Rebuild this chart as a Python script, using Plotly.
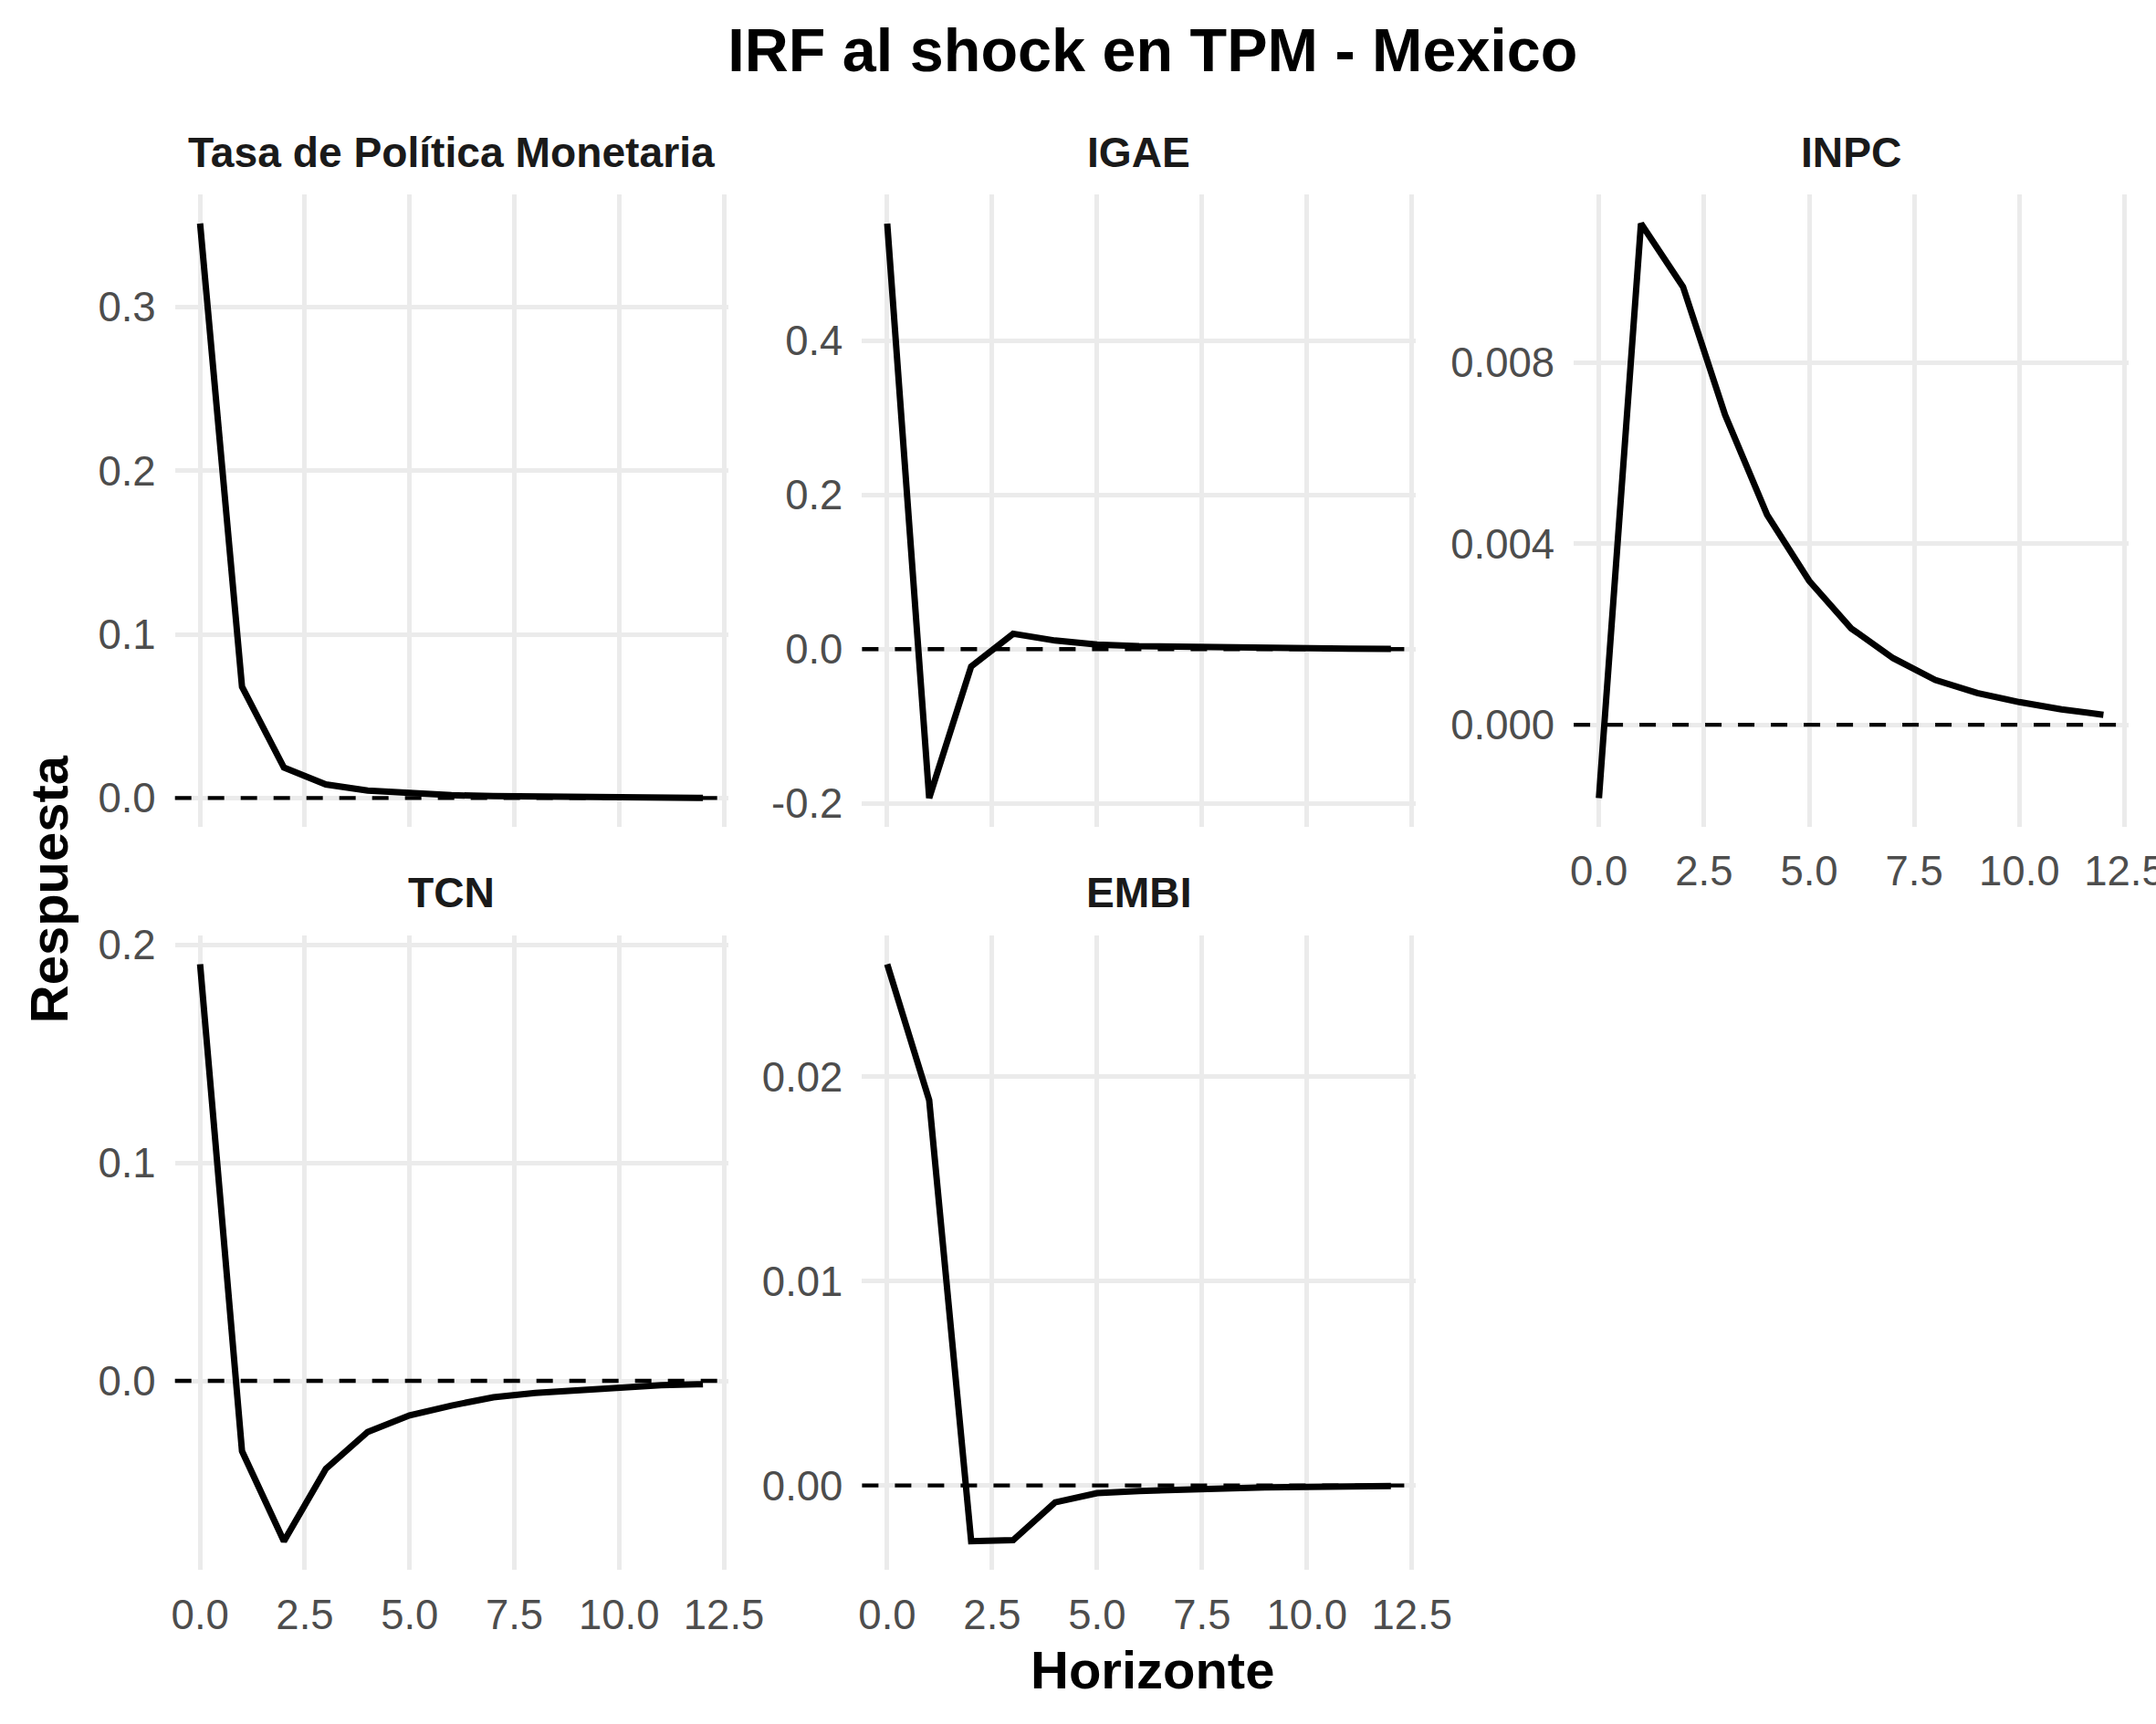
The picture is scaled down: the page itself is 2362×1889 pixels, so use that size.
import plotly.graph_objects as go

# ---------------- data ----------------
horizonte = list(range(13))
variables = ["Tasa de Política Monetaria", "IGAE", "INPC", "TCN", "EMBI"]

tpm = [0.351, 0.068, 0.0186, 0.0083, 0.0045, 0.0027, 0.0017, 0.0012, 0.0008, 0.0005, 0.0003, 0.0002, 0.0001]
igae = [0.552, -0.193, -0.0224, 0.020, 0.0112, 0.0059, 0.0040, 0.0030, 0.0020, 0.0015, 0.0010, 0.0007, 0.0005]
inpc = [-0.00162, 0.01108, 0.00968, 0.00685, 0.00464, 0.00318, 0.00213, 0.00147, 0.00099, 0.00070, 0.00050, 0.00034, 0.00022]
tcn = [0.191, -0.0322, -0.0735, -0.0403, -0.0234, -0.0158, -0.0113, -0.0075, -0.0055, -0.0043, -0.0030, -0.0020, -0.0015]
embi = [0.0255, 0.01885, -0.00273, -0.00268, -0.00083, -0.000375, -0.00027, -0.00019, -0.00013, -0.0001, -0.00007, -0.00005, -0.00003]

x_tickvals = [0, 2.5, 5, 7.5, 10, 12.5]
x_ticktext = ["0.0", "2.5", "5.0", "7.5", "10.0", "12.5"]

y_tickvals = [
    [0.0, 0.1, 0.2, 0.3],
    [-0.2, 0.0, 0.2, 0.4],
    [0.0, 0.004, 0.008],
    [0.0, 0.1, 0.2],
    [0.0, 0.01, 0.02],
]
y_ticktext = [
    ["0.0", "0.1", "0.2", "0.3"],
    ["-0.2", "0.0", "0.2", "0.4"],
    ["0.000", "0.004", "0.008"],
    ["0.0", "0.1", "0.2"],
    ["0.00", "0.01", "0.02"],
]

series = [tpm, igae, inpc, tcn, embi]

# ---------------- layout ----------------
W, H = 2362, 1889          # target picture size (positions below are in these px)
FIG_W = 2402               # figure width (compensates horizontal capture scaling)
FONT = "Liberation Sans, Arial, Helvetica, sans-serif"

col_px = [(188, 795), (942, 1550), (1723, 2332), (188, 795), (942, 1550)]
row_px = [(200, 898), (200, 898), (200, 898), (1018, 1719), (1018, 1719)]
show_x_labels = [False, False, True, True, True]

fig = go.Figure()
layout = dict(
    width=FIG_W, height=H,
    margin=dict(l=0, r=0, t=0, b=0),
    paper_bgcolor="white", plot_bgcolor="white",
    showlegend=False,
    font=dict(family=FONT),
)

annotations = []
shapes = []

xmin, xmax = min(horizonte), max(horizonte)
xpad = 0.05 * (xmax - xmin)

for i, (name, vals) in enumerate(zip(variables, series)):
    k = "" if i == 0 else str(i + 1)
    xa, ya = "x" + k, "y" + k
    fig.add_trace(go.Scatter(
        x=horizonte, y=vals, mode="lines",
        line=dict(color="black", width=7),
        xaxis=xa, yaxis=ya, hoverinfo="skip",
    ))
    lo, hi = min(min(vals), 0.0), max(max(vals), 0.0)
    pad = 0.05 * (hi - lo)
    x0, x1 = col_px[i]
    y0, y1 = row_px[i]
    layout["xaxis" + k] = dict(
        domain=[x0 / W, x1 / W], anchor=ya,
        range=[xmin - xpad, xmax + xpad],
        tickvals=x_tickvals, ticktext=x_ticktext,
        showticklabels=show_x_labels[i],
        showgrid=True, gridcolor="#EBEBEB", gridwidth=5,
        zeroline=False, showline=False, ticks="",
        tickfont=dict(size=45.5, color="#4D4D4D", family=FONT),
        ticklabelstandoff=18, ticklabeloverflow="allow",
    )
    layout["yaxis" + k] = dict(
        domain=[1 - y1 / H, 1 - y0 / H], anchor=xa,
        range=[lo - pad, hi + pad],
        tickvals=y_tickvals[i], ticktext=y_ticktext[i],
        showgrid=True, gridcolor="#EBEBEB", gridwidth=5,
        zeroline=False, showline=False, ticks="",
        tickfont=dict(size=45.5, color="#4D4D4D", family=FONT),
        ticklabelstandoff=20,
    )
    shapes.append(dict(
        type="line", xref=xa + " domain", yref=ya,
        x0=0, x1=1, y0=0, y1=0,
        line=dict(color="black", width=4.4, dash="18px,18px"),
        layer="above",
    ))
    annotations.append(dict(
        text="<b>" + name + "</b>", showarrow=False,
        xref="paper", yref="paper",
        x=(x0 + x1) / 2 / W, y=1 - (y0 - 47) / H,
        xanchor="center", yanchor="middle",
        font=dict(size=46.2, color="#1A1A1A", family=FONT),
    ))

annotations.append(dict(
    text="<b>Respuesta</b>", showarrow=False, xref="paper", yref="paper",
    x=49 / W, y=1 - 967 / H, xanchor="center", yanchor="middle",
    textangle=-90, font=dict(size=58, color="black", family=FONT),
))
annotations.append(dict(
    text="<b>Horizonte</b>", showarrow=False, xref="paper", yref="paper",
    x=1261 / W, y=1 - 1829 / H, xanchor="center", yanchor="middle",
    font=dict(size=58, color="black", family=FONT),
))

layout["title"] = dict(
    text="<b>IRF al shock en TPM - Mexico</b>",
    x=1261 / W, xanchor="center", xref="paper",
    y=1 - 55 / H, yanchor="middle", yref="container",
    font=dict(size=66.5, color="black", family=FONT),
)
layout["annotations"] = annotations
layout["shapes"] = shapes

fig.update_layout(**layout)
fig.write_html(
    "out.html",
    config={"displayModeBar": False},
    post_script="document.body.style.margin='0';document.body.style.overflow='hidden';",
)
